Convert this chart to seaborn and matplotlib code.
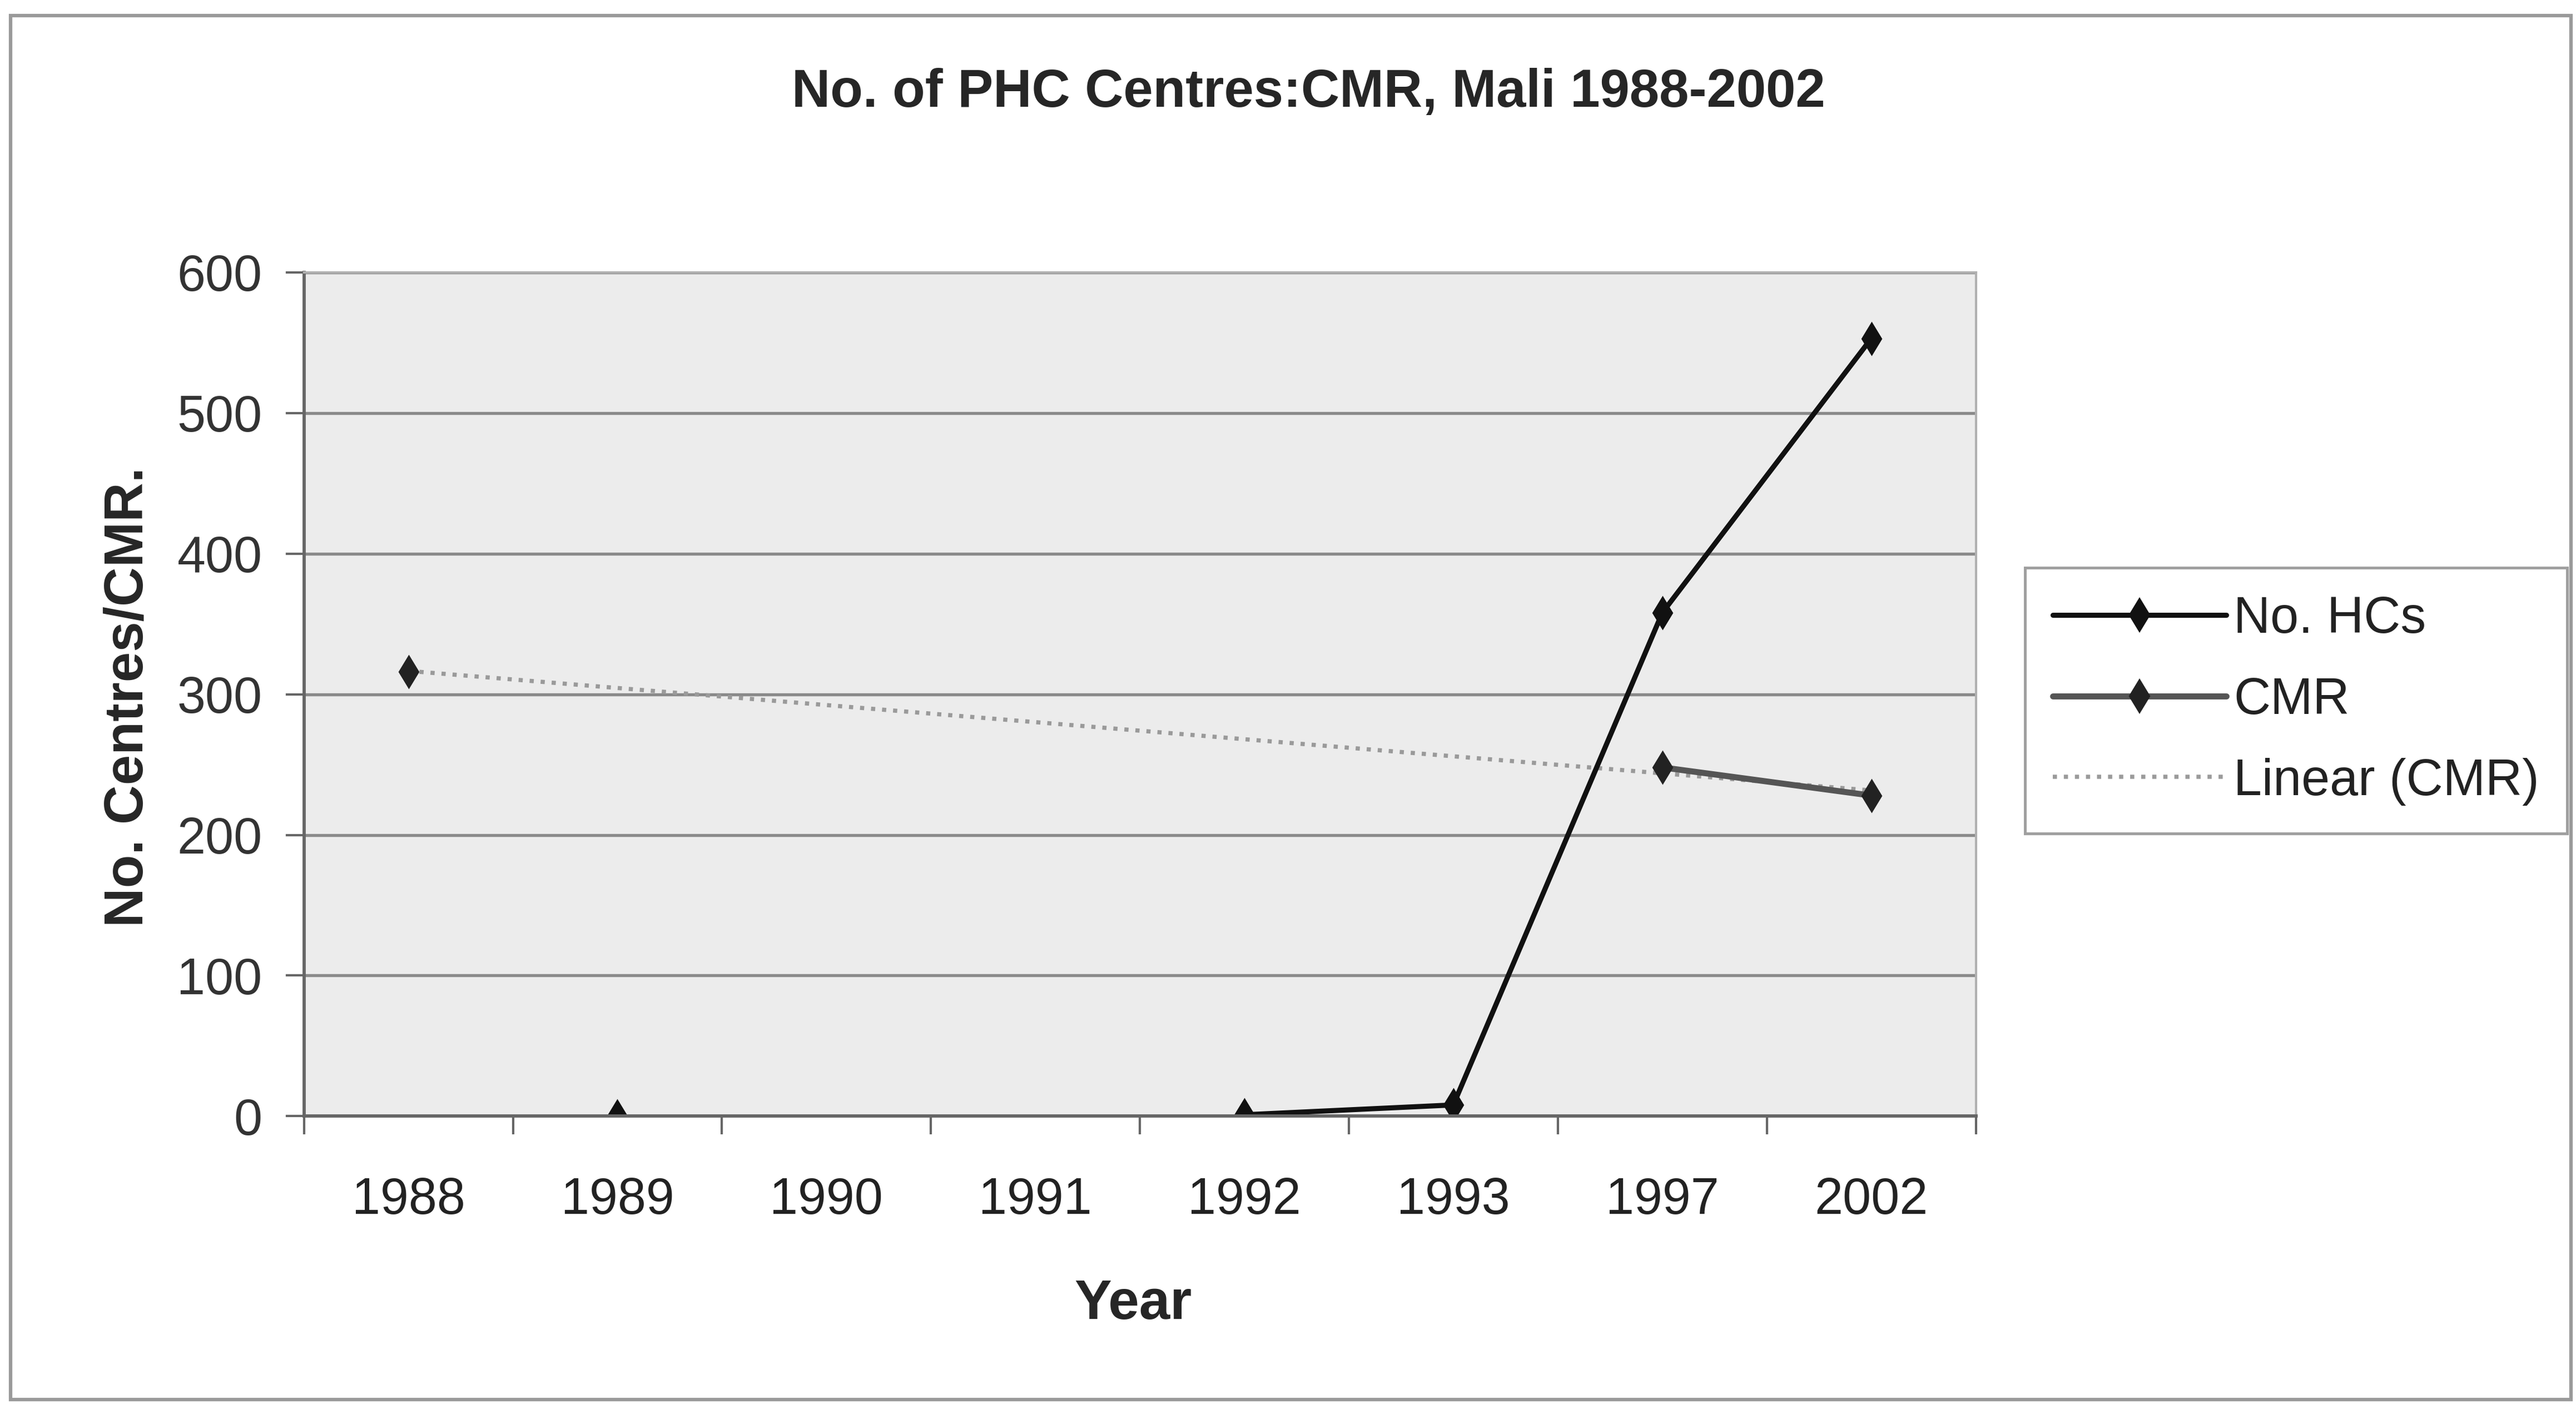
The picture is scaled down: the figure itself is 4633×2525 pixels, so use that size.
import numpy as np
import pandas as pd
import matplotlib
matplotlib.use("Agg")
import matplotlib.pyplot as plt
from matplotlib.lines import Line2D
from matplotlib.patches import Rectangle
import seaborn as sns

# Data
years = ['1988', '1989', '1990', '1991', '1992', '1993', '1997', '2002']
no_hcs = [np.nan, 0, np.nan, np.nan, 1, 8, 358, 553]
cmr = [316, np.nan, np.nan, np.nan, np.nan, np.nan, 248, 228]
y_ticks = [0, 100, 200, 300, 400, 500, 600]


def to_segments(values):
    # split a series with blanks into runs so lines keep gaps (Excel style)
    rows, seg = [], 0
    prev_nan = True
    for i, v in enumerate(values):
        if np.isnan(v):
            prev_nan = True
            continue
        if prev_nan:
            seg += 1
        prev_nan = False
        rows.append({'pos': i, 'value': v, 'seg': seg})
    return pd.DataFrame(rows)


hcs_df = to_segments(no_hcs)
cmr_df = to_segments(cmr)

# linear trend of CMR over category index (1..n), like Excel
cmr_arr = np.array(cmr, dtype=float)
idx = np.arange(len(years))
ok = ~np.isnan(cmr_arr)
slope, icpt = np.polyfit(idx[ok] + 1, cmr_arr[ok], 1)
trend_x = np.array([idx[ok].min(), idx[ok].max()])
trend_df = pd.DataFrame({'pos': trend_x, 'value': slope * (trend_x + 1) + icpt})

sns.set_theme(style="white")
plt.rcParams['font.family'] = ['Liberation Sans', 'DejaVu Sans']

fig = plt.figure(figsize=(4633 / 300, 2525 / 300), dpi=300)
ax = fig.add_axes([0.118, 0.205, 0.649, 0.601])
ax.set_facecolor('#ececec')

# trend line first so the data sit on top
sns.lineplot(data=trend_df, x='pos', y='value', ax=ax, color='#9a9a9a',
             linestyle=':', linewidth=1.8, legend=False)
sns.lineplot(data=cmr_df, x='pos', y='value', units='seg', estimator=None,
             ax=ax, color='#555555', linewidth=2.6, marker='d',
             markersize=9.5, markerfacecolor='#222222', markeredgecolor='#222222',
             legend=False)
sns.lineplot(data=hcs_df, x='pos', y='value', units='seg', estimator=None,
             ax=ax, color='#111111', linewidth=2.2, marker='d',
             markersize=9.5, markerfacecolor='#111111', markeredgecolor='#111111',
             legend=False)

ax.set_xlim(-0.5, len(years) - 0.5)
ax.set_ylim(0, 600)
ax.set_yticks(y_ticks)
ax.set_yticklabels([str(t) for t in y_ticks], fontsize=22, color='#333333')
ax.set_xticks(idx)
ax.set_xticklabels(years, fontsize=22, color='#222222')
ax.set_xticks(np.arange(len(years) + 1) - 0.5, minor=True)
ax.tick_params(axis='x', which='major', length=0, pad=26)
ax.tick_params(axis='x', which='minor', length=8, width=1.0, color='#666666',
               bottom=True)
ax.tick_params(axis='y', which='major', length=8, width=1.0, color='#666666',
               pad=10, left=True)

ax.grid(axis='y', color='#8a8a8a', linewidth=1.3)
ax.grid(axis='x', visible=False)
ax.set_axisbelow(True)
for side in ['left', 'bottom']:
    ax.spines[side].set_color('#666666')
    ax.spines[side].set_linewidth(1.4)
for side in ['top', 'right']:
    ax.spines[side].set_color('#b0b0b0')
    ax.spines[side].set_linewidth(1.0)

ax.set_xlabel('Year', fontsize=24, fontweight='bold')
ax.set_ylabel('No. Centres/CMR.', fontsize=23.5, fontweight='bold')
ax.xaxis.set_label_coords(0.496, -0.192)
ax.yaxis.set_label_coords(-0.09, 0.497)

fig.text(0.508, 0.934, 'No. of PHC Centres:CMR, Mali 1988-2002', ha='center',
         va='center', fontsize=23, fontweight='bold')

handles = [
    Line2D([], [], color='#111111', lw=2.2, marker='d', markersize=9.5,
           markerfacecolor='#111111', markeredgecolor='#111111'),
    Line2D([], [], color='#555555', lw=2.6, marker='d', markersize=9.5,
           markerfacecolor='#222222', markeredgecolor='#222222'),
    Line2D([], [], color='#9a9a9a', lw=1.8, linestyle=':'),
]
leg = fig.legend(handles, ['No. HCs', 'CMR', 'Linear (CMR)'],
                 loc='center left', bbox_to_anchor=(0.786, 0.501),
                 fontsize=22, frameon=True, fancybox=False, handlelength=3.4,
                 handletextpad=0.15, labelspacing=0.65, borderpad=0.55,
                 borderaxespad=0, labelcolor='#222222')
leg.get_frame().set_edgecolor('#888888')
leg.get_frame().set_linewidth(1.2)

# chart area border
fig.patches.append(Rectangle((0.004, 0.003), 0.994, 0.986, transform=fig.transFigure,
                             fill=False, edgecolor='#9a9a9a', linewidth=1.5))

fig.savefig('out.png', dpi=300, facecolor='white')
